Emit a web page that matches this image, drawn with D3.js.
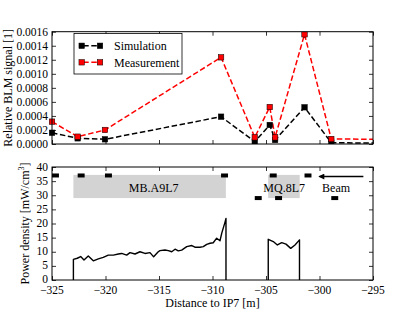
<!DOCTYPE html>
<html><head><meta charset="utf-8">
<script src="https://cdn.jsdelivr.net/npm/d3@7"></script>
<style>
html,body{margin:0;padding:0;background:#fff;}
svg{display:block;}
text{font-family:"Liberation Serif","DejaVu Serif",serif;fill:#000;}
</style></head>
<body><svg id="c" width="415" height="312"></svg>
<script>
// ---- data ----
const blmPos = [-325.0, -322.6, -320.05, -309.2, -306.05, -304.65, -304.15, -301.4, -298.9, -293.0];
const simulation = [0.00016, 0.000081, 0.000067, 0.000389, 0.000033, 0.000271, 0.000057, 0.000523, 0.000019, 0.00001];
const measurement = [0.000318, 0.000104, 0.0002, 0.001235, 0.000095, 0.000527, 0.000095, 0.001563, 0.000071, 0.000067];
const blmMarkX = [-325.0, -322.6, -320.05, -309.2, -306.05, -304.65, -304.15, -301.4, -298.9];
const blmMarkRow = [37, 37, 37, 37, 29, 37, 29, 37, 29];
const magnetNames = ["MB.A9L7", "MQ.8L7"];
const magnetStart = [-323.0, -304.8];
const magnetEnd = [-308.75, -301.85];
const powerX1 = [-323.0, -323.0, -322.64, -322.32, -322.01, -321.61, -321.14, -320.67, -320.21, -319.74, -319.27, -318.8, -318.49, -318.02, -317.71, -317.24, -316.78, -316.31, -315.84, -315.5, -315.07, -314.91, -314.44, -314.13, -313.81, -313.5, -313.2, -312.88, -312.41, -311.94, -311.64, -311.17, -310.86, -310.54, -310.23, -309.93, -309.61, -309.3, -309.14, -308.83, -308.74, -308.74];
const powerY1 = [0, 7.3, 7.7, 8.3, 7.1, 8.5, 6.8, 7.5, 8.0, 8.8, 8.8, 9.2, 9.4, 8.8, 9.7, 9.2, 10.0, 9.4, 9.7, 8.2, 10.0, 10.4, 10.6, 10.4, 10.0, 10.9, 10.3, 10.6, 11.8, 12.2, 11.6, 11.6, 11.8, 12.6, 13.0, 13.2, 14.8, 13.9, 16.5, 20.5, 21.8, 0];
const powerX2 = [-304.79, -304.79, -304.32, -303.94, -303.53, -303.13, -302.69, -302.29, -301.87, -301.87];
const powerY2 = [0, 14.4, 13.6, 12.4, 13.2, 12.7, 11.2, 12.4, 14.2, 0];
const xTicks = [-325, -320, -315, -310, -305, -300, -295];
const yTopTicks = [0, 0.0002, 0.0004, 0.0006, 0.0008, 0.001, 0.0012, 0.0014, 0.0016];
const yBotTicks = [0, 5, 10, 15, 20, 25, 30, 35, 40];

// ---- layout ----
const svg = d3.select("#c");
const L = 52, R = 373;
const x = d3.scaleLinear([-325, -295], [L, R]);
const yT = d3.scaleLinear([0, 0.0016], [144, 31.7]);
const yB = d3.scaleLinear([0, 40], [280, 167]);
const FS = 11.5;

const defs = svg.append("defs");
defs.append("clipPath").attr("id", "clipT").append("rect")
  .attr("x", L - 3).attr("y", yT.range()[1]).attr("width", R - L + 3).attr("height", yT.range()[0] - yT.range()[1]);
defs.append("clipPath").attr("id", "clipT2").append("rect")
  .attr("x", L).attr("y", yT.range()[1]).attr("width", R - L).attr("height", yT.range()[0] - yT.range()[1]);

function frame(y) {
  const [b, t] = y.range();
  const g = svg.append("g");
  const tv = y === yT ? yTopTicks : yBotTicks;
  g.append("g").attr("transform", `translate(${L},0)`)
    .call(d3.axisLeft(y).tickValues(tv).tickSizeInner(-4).tickSizeOuter(0).tickFormat(""))
    .call(s => s.select(".domain").remove());
  g.append("g").attr("transform", `translate(${R},0)`)
    .call(d3.axisRight(y).tickValues(tv).tickSizeInner(-4).tickSizeOuter(0).tickFormat(""))
    .call(s => s.select(".domain").remove());
  g.append("g").attr("transform", `translate(0,${b})`)
    .call(d3.axisBottom(x).tickValues(xTicks).tickSizeInner(-4).tickSizeOuter(0).tickFormat(""))
    .call(s => s.select(".domain").remove());
  g.append("g").attr("transform", `translate(0,${t})`)
    .call(d3.axisTop(x).tickValues(xTicks).tickSizeInner(-4).tickSizeOuter(0).tickFormat(""))
    .call(s => s.select(".domain").remove());
  g.selectAll("line").attr("stroke", "#000").attr("stroke-width", 0.8);
  return g;
}

// ---------- top panel ----------
const line = d3.line().x((d, i) => x(blmPos[i])).y(d => yT(d));
const gT = svg.append("g");
gT.append("path").datum(simulation).attr("d", line).attr("fill", "none")
  .attr("stroke", "#000").attr("stroke-width", 1.5).attr("stroke-dasharray", "5.5,2.6").attr("clip-path", "url(#clipT2)");
gT.append("path").datum(measurement).attr("d", line).attr("fill", "none")
  .attr("stroke", "#ff0000").attr("stroke-width", 1.5).attr("stroke-dasharray", "5.5,2.6").attr("clip-path", "url(#clipT2)");
const ms = 5.5;
gT.append("g").attr("clip-path", "url(#clipT)").selectAll("rect").data(simulation).join("rect")
  .attr("x", (d, i) => x(blmPos[i]) - ms / 2).attr("y", d => yT(d) - ms / 2)
  .attr("width", ms).attr("height", ms).attr("fill", "#000").attr("stroke", "#000").attr("stroke-width", 0.5);
gT.append("g").attr("clip-path", "url(#clipT)").selectAll("rect").data(measurement).join("rect")
  .attr("x", (d, i) => x(blmPos[i]) - ms / 2).attr("y", d => yT(d) - ms / 2)
  .attr("width", ms).attr("height", ms).attr("fill", "#ff0000").attr("stroke", "#000").attr("stroke-width", 0.5);

frame(yT);
svg.append("rect").attr("x", L).attr("y", yT.range()[1]).attr("width", R - L).attr("height", yT.range()[0] - yT.range()[1])
  .attr("fill", "none").attr("stroke", "#000").attr("stroke-width", 1);

svg.append("g").selectAll("text").data(yTopTicks).join("text")
  .attr("x", L - 4).attr("y", d => yT(d) + 4).attr("text-anchor", "end").attr("font-size", FS)
  .text(d => d3.format(".4f")(d));

svg.append("text").attr("transform", `translate(12,${(yT.range()[0] + yT.range()[1]) / 2}) rotate(-90)`)
  .attr("text-anchor", "middle").attr("font-size", 12).text("Relative BLM signal [1]");

// legend
const lg = svg.append("g");
lg.append("rect").attr("x", 74).attr("y", 33.5).attr("width", 108).attr("height", 40.5)
  .attr("fill", "#fff").attr("stroke", "#000").attr("stroke-width", 0.8);
[["Simulation", "#000", 45.8], ["Measurement", "#ff0000", 62.3]].forEach(([name, col, yy]) => {
  lg.append("line").attr("x1", 81.7).attr("x2", 100).attr("y1", yy).attr("y2", yy)
    .attr("stroke", col).attr("stroke-width", 1.5).attr("stroke-dasharray", "5.5,2.6").attr("stroke-dashoffset", -1.5);
  [81.7, 100].forEach(px => lg.append("rect").attr("x", px - ms / 2).attr("y", yy - ms / 2).attr("width", ms).attr("height", ms)
    .attr("fill", col).attr("stroke", "#000").attr("stroke-width", 0.5));
  lg.append("text").attr("x", 114).attr("y", yy + 4.2).attr("font-size", 12).text(name);
});

// ---------- bottom panel ----------
const gB = svg.append("g");
gB.selectAll("rect.mag").data(magnetNames).join("rect").attr("class", "mag")
  .attr("x", (d, i) => x(magnetStart[i])).attr("width", (d, i) => x(magnetEnd[i]) - x(magnetStart[i]))
  .attr("y", yB(37.2)).attr("height", yB(29) - yB(37.2)).attr("fill", "#d3d3d3");
const labelX = [-315.5, -303.3];
gB.selectAll("text.mag").data(magnetNames).join("text").attr("class", "mag")
  .attr("x", (d, i) => x(labelX[i])).attr("y", yB(31.3)).attr("text-anchor", "middle").attr("font-size", 12).text(d => d);
gB.append("text").attr("x", x(-298.45)).attr("y", yB(31.3)).attr("text-anchor", "middle").attr("font-size", 12).text("Beam");
// arrow
defs.append("marker").attr("id", "ah").attr("viewBox", "0 0 10 10").attr("refX", 8).attr("refY", 5)
  .attr("markerWidth", 8).attr("markerHeight", 6).attr("orient", "auto").attr("markerUnits", "userSpaceOnUse")
  .append("path").attr("d", "M0,0 L10,5 L0,10 Z").attr("fill", "#000");
gB.append("line").attr("x1", x(-295.9)).attr("x2", x(-300.0)).attr("y1", yB(36.6)).attr("y2", yB(36.6))
  .attr("stroke", "#000").attr("stroke-width", 1.5).attr("marker-end", "url(#ah)");
// BLM markers
gB.selectAll("rect.blm").data(blmMarkX).join("rect").attr("class", "blm")
  .attr("x", d => x(d)).attr("width", x(0.65) - x(0))
  .attr("y", (d, i) => yB(blmMarkRow[i]) - 2).attr("height", 4).attr("fill", "#000");

const pl = d3.line().x(d => x(d[0])).y(d => yB(d[1]));
[[powerX1, powerY1], [powerX2, powerY2]].forEach(([xs, ys]) => {
  gB.append("path").datum(xs.map((v, i) => [v, ys[i]])).attr("d", pl).attr("fill", "none")
    .attr("stroke", "#000").attr("stroke-width", 1.4).attr("stroke-linejoin", "round");
});

frame(yB);
svg.append("rect").attr("x", L).attr("y", yB.range()[1]).attr("width", R - L).attr("height", yB.range()[0] - yB.range()[1])
  .attr("fill", "none").attr("stroke", "#000").attr("stroke-width", 1);

svg.append("g").selectAll("text").data(yBotTicks).join("text")
  .attr("x", L - 4).attr("y", d => yB(d) + (d === 0 ? 2.5 : 3.5)).attr("text-anchor", "end").attr("font-size", FS)
  .text(d => d3.format("d")(d));
svg.append("g").selectAll("text").data(xTicks).join("text")
  .attr("x", d => x(d)).attr("y", 294).attr("text-anchor", "middle").attr("font-size", FS)
  .text(d => d3.format("d")(d));

svg.append("text").attr("x", 212.5).attr("y", 306.5).attr("text-anchor", "middle").attr("font-size", 12).text("Distance to IP7 [m]");
const yl = svg.append("text").attr("transform", `translate(29,${(yB.range()[0] + yB.range()[1]) / 2}) rotate(-90)`)
  .attr("text-anchor", "middle").attr("font-size", 12);
yl.append("tspan").text("Power density [mW/cm");
yl.append("tspan").attr("font-size", 8).attr("dy", -5).text("3");
yl.append("tspan").attr("dy", 5).text("]");
</script></body></html>
